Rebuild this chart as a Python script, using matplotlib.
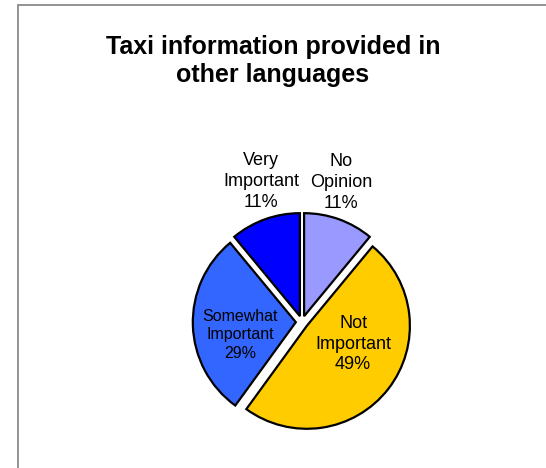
import numpy as np
import matplotlib
matplotlib.use("Agg")
import matplotlib.pyplot as plt
from matplotlib.patches import Rectangle

plt.rcParams['font.family'] = ['Liberation Sans', 'DejaVu Sans']

# Data
categories = ["No\nOpinion", "Not\nImportant", "Somewhat\nImportant", "Very\nImportant"]
values = [11, 49, 29, 11]
colors = ["#9999FF", "#FFCC00", "#3366FF", "#0000FF"]
title = "Taxi information provided in\nother languages"

W, H = 546, 468
fig = plt.figure(figsize=(W / 100, H / 100), dpi=100)

# frame (gray border extending past right/bottom edge)
fig.patches.append(Rectangle((18 / W, -0.1), 1.2, (H - 5) / H + 0.1,
                             transform=fig.transFigure, fill=False,
                             edgecolor="#808080", linewidth=1.2))

fig.text(0.5, 1 - 61 / H, title, ha="center", va="center",
         fontsize=18, fontweight="bold", linespacing=1.25)

# pie axes: center at (302, 322) px, radius 103 px
cx, cy, R = 302, 322, 103
L = 1.5
size = 2 * L * R
ax = fig.add_axes([(cx - size / 2) / W, (H - cy - size / 2) / H, size / W, size / H])
wedges, _ = ax.pie(values, colors=colors, startangle=90, counterclock=False,
                   explode=[0.06] * 4, radius=1.0,
                   wedgeprops=dict(edgecolor="black", linewidth=1.6))
ax.set_xlim(-L, L)
ax.set_ylim(-L, L)
ax.set_aspect("auto")
ax.axis("off")

# labels: (radius, angle offset deg, fontsize, linespacing)
cfg = {0: (1.41, 4.2, 13, 1.3), 1: (0.54, 14.5, 13, 1.3),
       2: (0.615, 10, 11.5, 1.3), 3: (1.42, -3.5, 13, 1.3)}
for i, w in enumerate(wedges):
    mid = np.deg2rad((w.theta1 + w.theta2) / 2 + cfg[i][1])
    r = cfg[i][0]
    ax.text(r * np.cos(mid), r * np.sin(mid),
            f"{categories[i]}\n{values[i]}%", ha="center", va="center",
            fontsize=cfg[i][2], linespacing=cfg[i][3], color="black")

fig.savefig("out.png", dpi=100)
